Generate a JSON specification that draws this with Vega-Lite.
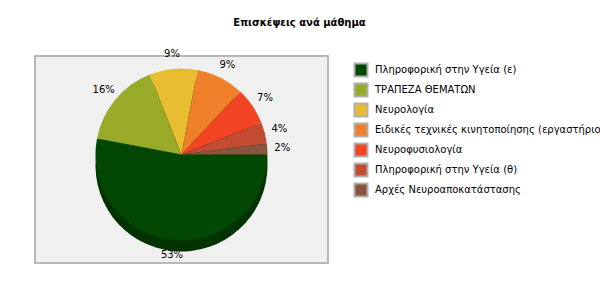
{
  "$schema": "https://vega.github.io/schema/vega-lite/v6.json",
  "width": 293,
  "height": 207,
  "autosize": {"type": "none"},
  "padding": {"left": 35, "top": 56, "right": 272, "bottom": 37},
  "background": "white",
  "title": {
    "text": "Επισκέψεις ανά μάθημα",
    "anchor": "middle",
    "dx": 118,
    "offset": 21,
    "font": "DejaVu Sans",
    "fontSize": 10,
    "fontWeight": "bold",
    "color": "#000000"
  },
  "config": {
    "view": {"stroke": null},
    "font": "DejaVu Sans"
  },
  "data": {
    "values": [
      {"idx": 1, "course": "Πληροφορική στην Υγεία (ε)", "pct": 53, "label": "53%"},
      {"idx": 2, "course": "ΤΡΑΠΕΖΑ ΘΕΜΑΤΩΝ", "pct": 16, "label": "16%"},
      {"idx": 3, "course": "Νευρολογία", "pct": 9, "label": "9%"},
      {"idx": 4, "course": "Ειδικές τεχνικές κινητοποίησης (εργαστήριο)", "pct": 9, "label": "9%"},
      {"idx": 5, "course": "Νευροφυσιολογία", "pct": 7, "label": "7%"},
      {"idx": 6, "course": "Πληροφορική στην Υγεία (θ)", "pct": 4, "label": "4%"},
      {"idx": 7, "course": "Αρχές Νευροαποκατάστασης", "pct": 2, "label": "2%"}
    ]
  },
  "layer": [
    {
      "data": {"values": [{"panel": 1}]},
      "mark": {"type": "rect", "color": "#f0f0f0", "stroke": "#b8b8b8", "strokeWidth": 2},
      "encoding": {
        "x": {"value": 0},
        "x2": {"value": "width"},
        "y": {"value": 0},
        "y2": {"value": "height"}
      }
    },
    {
      "mark": {"type": "arc", "outerRadius": 86, "yOffset": 6, "color": "#003300"},
      "encoding": {
        "theta": {"field": "pct", "type": "quantitative", "stack": true, "scale": {"range": [1.5708, 7.854]}},
        "order": {"field": "idx", "type": "ordinal"}
      }
    },
    {
      "mark": {"type": "arc", "outerRadius": 86, "yOffset": -5},
      "encoding": {
        "theta": {"field": "pct", "type": "quantitative", "stack": true, "scale": {"range": [1.5708, 7.854]}},
        "order": {"field": "idx", "type": "ordinal"},
        "color": {
          "field": "course",
          "type": "nominal",
          "sort": {"field": "idx"},
          "scale": {
            "domain": [
              "Πληροφορική στην Υγεία (ε)",
              "ΤΡΑΠΕΖΑ ΘΕΜΑΤΩΝ",
              "Νευρολογία",
              "Ειδικές τεχνικές κινητοποίησης (εργαστήριο)",
              "Νευροφυσιολογία",
              "Πληροφορική στην Υγεία (θ)",
              "Αρχές Νευροαποκατάστασης"
            ],
            "range": ["#024802", "#98aa28", "#e9bd32", "#ef7f29", "#f34424", "#c24b32", "#8a533d"]
          },
          "legend": {
            "title": null,
            "orient": "none",
            "legendX": 318,
            "legendY": 6,
            "symbolType": "square",
            "symbolSize": 170,
            "symbolStrokeColor": "#b0b0b0",
            "symbolStrokeWidth": 2,
            "symbolOpacity": 1,
            "labelFont": "DejaVu Sans",
            "labelFontSize": 10,
            "labelColor": "#000000",
            "labelLimit": 0,
            "labelOffset": 6,
            "rowPadding": -2
          }
        }
      }
    },
    {
      "mark": {"type": "text", "radius": 101, "yOffset": -5, "font": "DejaVu Sans", "fontSize": 10, "color": "#000000"},
      "encoding": {
        "theta": {"field": "pct", "type": "quantitative", "stack": true, "scale": {"range": [1.5708, 7.854]}},
        "order": {"field": "idx", "type": "ordinal"},
        "text": {"field": "label"}
      }
    }
  ]
}
